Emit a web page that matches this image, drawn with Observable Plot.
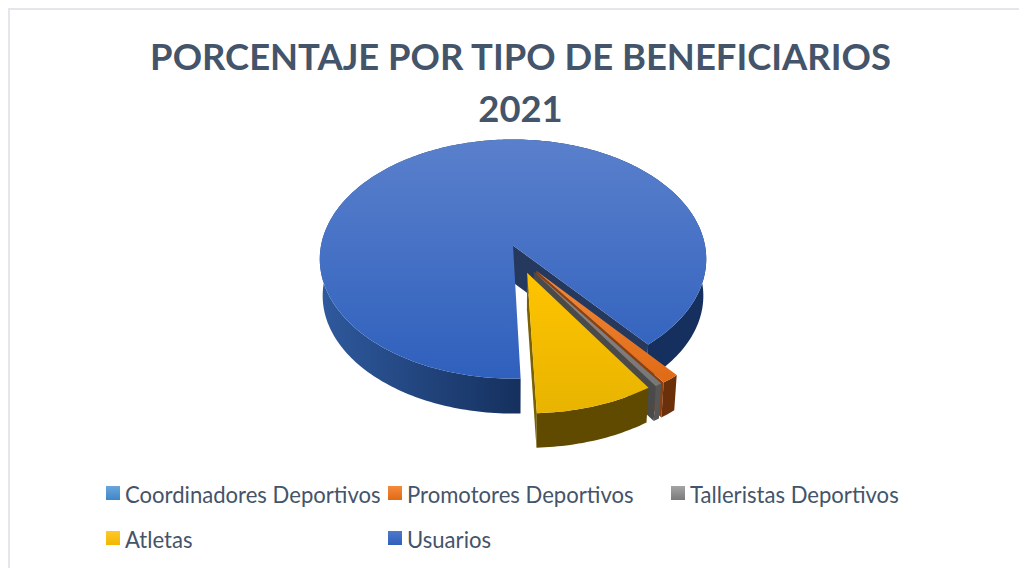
<!DOCTYPE html>
<html><head><meta charset="utf-8">
<script src="https://cdn.jsdelivr.net/npm/d3@7"></script>
<script src="https://cdn.jsdelivr.net/npm/@observablehq/plot@0.6"></script>
<style>
html,body{margin:0;padding:0;background:#fff;overflow:hidden}
#page{position:relative;width:1019px;height:568px;font-family:Lato,sans-serif;color:#44546a}
#frame{position:absolute;left:8px;top:8px;width:1020px;height:600px;border:2px solid #e3e7ed;box-sizing:border-box;pointer-events:none}
#title{height:130px;box-sizing:border-box;padding-top:30px;text-align:center;font-weight:700;font-size:36.4px;line-height:52px;padding-left:22px;white-space:nowrap}
#legend{position:relative;height:88px;font-size:22.1px}
.item{position:absolute;white-space:nowrap;line-height:26px}
.sw{position:absolute;width:14px;height:14px}
svg{display:block}
</style></head><body>
<div id="page">
<div id="title">PORCENTAJE POR TIPO DE BENEFICIARIOS<br>2021</div>
<div id="chart"></div>
<div id="legend"></div>
<div id="frame"></div>
</div>
<script>
const categories = ["Coordinadores Deportivos","Promotores Deportivos","Talleristas Deportivos","Atletas","Usuarios"];
const shares = [0.05, 1.3, 0.5, 8.7, 89.45];
const exploded = [0.24, 0.24, 0.24, 0.236, 0];
const explodeTurn = [8, 8, 8, 0, 0];
const topColors = [["#5b9bd5","#3f86c8"],["#f08a3c","#e06a15"],["#8a8a8a","#777777"],["#ffc400","#e8b400"],["#5a80cc","#2f60bd"]];
const wallColors = ["#23527c","#6b2f0a","#565656","#5f4a00","#1b3466"];
const sideColors = ["#23527c","#8a4010","#4a4a4a","#7a6000","#25395f"];

const startDeg = 140, persp = 0.113, depth = 37 / 118, lowerScale = 0.985;
const pie = d3.pie().sort(null).value(d => d).startAngle(startDeg * Math.PI / 180).endAngle((startDeg + 360) * Math.PI / 180);
const arcs = pie(shares);

function project(u, v, lower) {
  const s = 1 / (1 - persp * v), k = lower ? lowerScale : 1;
  return {x: u * s * k, y: v * s * k + (lower ? depth : 0)};
}
function slicePoints(a, e, turn) {
  const mid = (a.startAngle + a.endAngle) / 2 + turn * Math.PI / 180, ox = e * Math.sin(mid), oy = -e * Math.cos(mid);
  const n = Math.max(2, Math.ceil((a.endAngle - a.startAngle) / 0.02));
  const rim = d3.range(n + 1).map(i => {
    const t = a.startAngle + (a.endAngle - a.startAngle) * i / n;
    return [ox + Math.sin(t), oy - Math.cos(t)];
  });
  return {centre: [ox, oy], rim};
}
arcs.forEach((a, i) => {
  const {centre, rim} = slicePoints(a, exploded[i], explodeTurn[i]);
  a.top = [project(...centre), ...rim.map(p => project(...p))];
  a.wall = [...rim.map(p => project(p[0], p[1])), ...rim.slice().reverse().map(p => project(p[0], p[1], true))];
  const last = rim[rim.length - 1];
  a.sideEnd = [project(...centre), project(...last), project(last[0], last[1], true), project(centre[0], centre[1], true)];
});

const wallGrad = (id, stops) => `<linearGradient id="${id}" x1="0" x2="1" y1="0" y2="0">${stops.map(([o, c]) => `<stop offset="${o}" stop-color="${c}"/>`).join("")}</linearGradient>`;
const topGrad = (id, c0, c1) => `<linearGradient id="${id}" x1="0" x2="0" y1="0" y2="1"><stop offset="0" stop-color="${c0}"/><stop offset="1" stop-color="${c1}"/></linearGradient>`;
const defsMark = () => {
  const g = d3.create("svg:defs");
  g.html(topColors.map((c, i) => topGrad("t" + i, c[0], c[1])).join("") +
    wallGrad("w4", [[0, "#2f5a9e"], [0.52, "#15305e"], [1, "#15305e"]]));
  return g.node();
};
const poly = (pts, fill) => Plot.line(pts, {x: "x", y: "y", fill, stroke: "none", curve: "linear"});

const [coord, prom, tall, atl, usu] = arcs;
const marks = [defsMark,
  poly(usu.wall, "url(#w4)"),
  poly(usu.sideEnd, sideColors[4]),
  poly(usu.top, "url(#t4)")];
[prom, tall, atl].forEach(a => {
  const i = a.index;
  marks.push(poly(a.sideEnd, sideColors[i]), poly(a.wall, wallColors[i]), poly(a.top, `url(#t${i})`));
});

const unitX = 192, unitY = 118, cx = 512.5, cy = 245 - 130, H = 350;
document.getElementById("chart").append(Plot.plot({
  width: 1019, height: H, margin: 0,
  style: {background: "transparent"},
  x: {domain: [-cx / unitX, (1019 - cx) / unitX], range: [0, 1019], axis: null},
  y: {domain: [-cy / unitY, (H - cy) / unitY], range: [0, H], axis: null},
  marks
}));

const swatch = ["linear-gradient(#6aa6dc,#3f86c8)","linear-gradient(#f58a3c,#e06a15)","linear-gradient(#a5a5a5,#7a7a7a)","linear-gradient(#ffc82a,#f0b800)","linear-gradient(#4f78c8,#2f60bd)"];
const colX = [106, 388, 671], rowY = [8, 53];
const lg = document.getElementById("legend");
categories.forEach((c, i) => {
  const x = colX[i % 3], y = rowY[Math.floor(i / 3)];
  const s = document.createElement("div"); s.className = "sw";
  s.style.cssText = `left:${x}px;top:${y - 2}px;background:${swatch[i]}`;
  const t = document.createElement("div"); t.className = "item"; t.textContent = c;
  t.style.cssText = `left:${x + 19}px;top:${y - 6}px`;
  lg.append(s, t);
});
</script>
</body></html>
